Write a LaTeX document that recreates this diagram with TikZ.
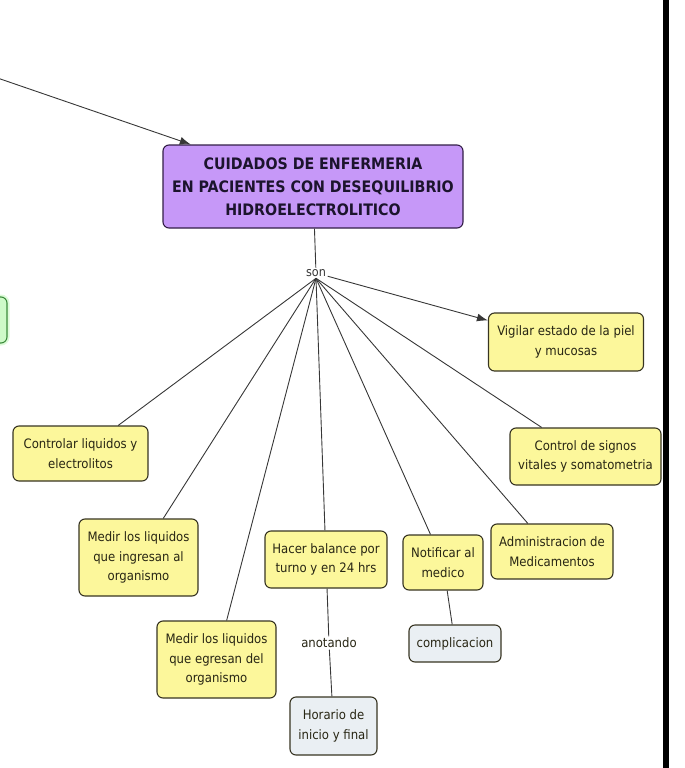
\documentclass[tikz,border=0pt]{standalone}
\usepackage{fontspec}
\setmainfont{DejaVu Sans Condensed}
\usepackage{tikz}
\usetikzlibrary{arrows.meta,calc}
\definecolor{amarillo}{RGB}{252,247,155}
\definecolor{borde}{RGB}{55,52,34}
\definecolor{morado}{RGB}{198,152,248}
\definecolor{bordemorado}{RGB}{50,30,70}
\definecolor{grisazul}{RGB}{234,239,243}
\definecolor{verde}{RGB}{206,250,200}
\definecolor{bordeverde}{RGB}{60,140,60}
\definecolor{linea}{RGB}{55,55,55}
\definecolor{texto}{RGB}{40,38,20}
\definecolor{titulo}{RGB}{28,20,45}

\begin{document}
\begin{tikzpicture}[x=1pt,y=-1pt,
  caja/.style={draw=borde,line width=1.1pt,fill=amarillo,rounded corners=6pt,align=center,
    text=texto,font=\fontsize{13}{19.5}\selectfont,inner sep=0pt},
  cajagris/.style={caja,fill=grisazul},
  enlace/.style={text=texto,font=\fontsize{13}{15}\selectfont,inner sep=1.5pt},
  conector/.style={draw=linea,line width=0.9pt},
  flecha/.style={conector,-{Latex[length=11pt,width=8pt]}}]
  \useasboundingbox(0,0)rectangle(685,768);
  \clip(0,0)rectangle(685,768);
  \node[caja,fill=morado,draw=bordemorado,text=titulo,font=\fontsize{15.8}{23}\selectfont\bfseries,
    minimum width=300,minimum height=83](cuidados)at(313,186.5){CUIDADOS DE ENFERMERIA\\EN PACIENTES CON DESEQUILIBRIO\\HIDROELECTROLITICO};
  \node[caja,fill=verde,draw=bordeverde,preaction={draw=verde!70,line width=5pt},
    minimum width=90,minimum height=46](otro)at(-38,320){};
  \node[enlace,text=linea,font=\fontsize{12.5}{14}\selectfont](son)at(316,273){son};
  \node[caja,minimum width=155,minimum height=58](piel)at(566,342){Vigilar estado de la piel\\y mucosas};
  \node[caja,minimum width=151,minimum height=57](signos)at(585.5,456.5){Control de signos\\vitales y somatometria};
  \node[caja,minimum width=135,minimum height=55](controlar)at(80.5,453.5){Controlar liquidos y\\electrolitos};
  \node[caja,minimum width=119,minimum height=77](ingresan)at(138.5,557.5){Medir los liquidos\\que ingresan al\\organismo};
  \node[caja,minimum width=119,minimum height=77](egresan)at(216.5,659.5){Medir los liquidos\\que egresan del\\organismo};
  \node[caja,minimum width=122,minimum height=57](balance)at(326,559.5){Hacer balance por\\turno y en 24 hrs};
  \node[caja,minimum width=80,minimum height=55](notificar)at(443,562.5){Notificar al\\medico};
  \node[caja,minimum width=122,minimum height=55](medicamentos)at(552,551.5){Administracion de\\Medicamentos};
  \node[cajagris,minimum width=92,minimum height=37](complicacion)at(455,643.5){complicacion};
  \node[cajagris,minimum width=87,minimum height=58](horario)at(333.5,726){Horario de\\inicio y final};
  \node[enlace](anotando)at(329,643){anotando};
  \coordinate(origen)at(-20,72);
  \draw[flecha](origen)--(cuidados);
  \draw[conector](cuidados)--(son);
  \draw[flecha](son)--(piel);
  \draw[conector](son.south)--(controlar);
  \draw[conector](son.south)--(ingresan);
  \draw[conector](son.south)--(egresan);
  \draw[conector](son.south)--(balance);
  \draw[conector](son.south)--(notificar);
  \draw[conector](son.south)--(medicamentos);
  \draw[conector](son.south)--(signos);
  \draw[conector](balance)--(anotando)--(horario);
  \draw[conector](notificar)--(complicacion);
  \fill(663,0)rectangle(669,768);
\end{tikzpicture}
\end{document}
